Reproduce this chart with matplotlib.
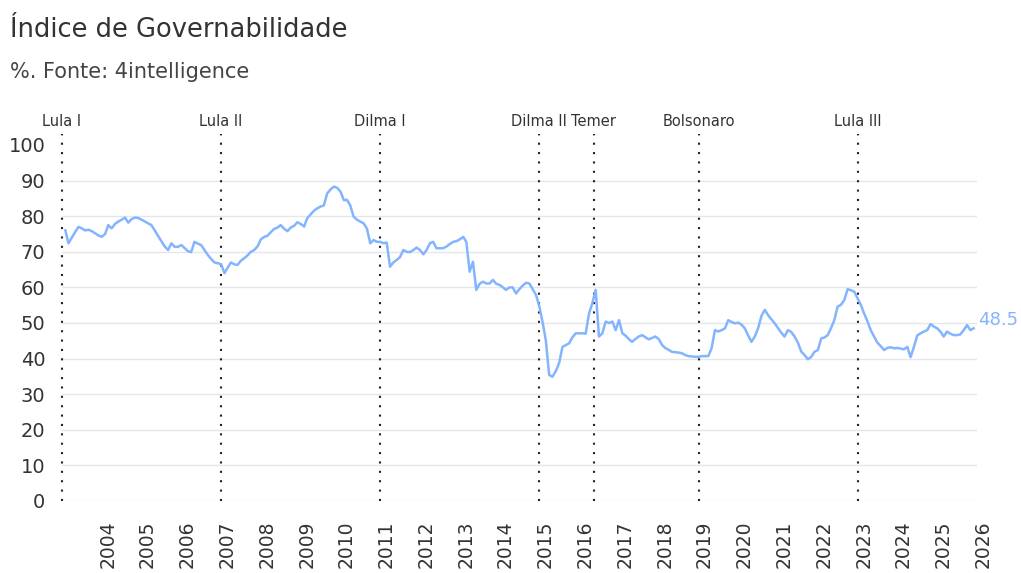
import numpy as np
import pandas as pd
import matplotlib
matplotlib.use("Agg")
import matplotlib.pyplot as plt
import matplotlib.dates as mdates
import matplotlib.transforms as mtrans

plt.rcParams['font.family'] = ['DejaVu Sans']

# monthly index values, Feb 2003 .. Dec 2025
vals_2003 = [76.0, 72.4, 74.0, 75.5, 77.0, 76.6, 76.0, 76.2, 75.8, 75.2, 74.6]
vals_2004 = [74.2, 75.0, 77.5, 76.6, 77.8, 78.5, 79.0, 79.6, 78.2, 79.2, 79.6, 79.5]
vals_2005 = [79.0, 78.5, 78.0, 77.5, 76.0, 74.5, 73.0, 71.5, 70.5, 72.4, 71.4, 71.4]
vals_2006 = [71.9, 71.0, 70.2, 69.9, 72.8, 72.3, 71.9, 70.5, 69.1, 68.0, 67.0, 66.8]
vals_2007 = [66.5, 64.0, 65.5, 67.0, 66.5, 66.3, 67.5, 68.2, 69.0, 70.0, 70.5, 71.5]
vals_2008 = [73.5, 74.2, 74.5, 75.5, 76.4, 76.8, 77.5, 76.5, 75.8, 76.8, 77.3, 78.3]
vals_2009 = [77.8, 77.1, 79.4, 80.5, 81.5, 82.2, 82.7, 83.0, 86.4, 87.5, 88.3, 88.0]
vals_2010 = [86.9, 84.5, 84.6, 83.0, 79.9, 79.0, 78.5, 78.0, 76.5, 72.4, 73.3, 72.8]
vals_2011 = [72.8, 72.4, 72.6, 65.8, 67.0, 67.7, 68.5, 70.5, 70.0, 69.9, 70.5, 71.2]
vals_2012 = [70.5, 69.3, 70.5, 72.4, 72.8, 71.0, 71.0, 71.0, 71.5, 72.2, 72.8, 73.0]
vals_2013 = [73.5, 74.2, 72.8, 64.4, 67.2, 59.3, 61.0, 61.6, 61.1, 61.1, 62.1, 61.0]
vals_2014 = [60.7, 60.0, 59.3, 60.0, 60.0, 58.3, 59.5, 60.5, 61.3, 61.1, 59.5, 57.9]
vals_2015 = [54.6, 50.0, 45.2, 35.4, 34.9, 36.5, 38.7, 43.3, 43.8, 44.3, 46.0, 47.1]
vals_2016 = [47.1, 47.1, 47.0, 52.7, 55.5, 59.3, 46.2, 47.1, 50.4, 50.0, 50.4, 48.0]
vals_2017 = [50.8, 47.1, 46.5, 45.5, 44.7, 45.5, 46.2, 46.6, 46.0, 45.4, 45.8, 46.2]
vals_2018 = [45.5, 43.8, 43.0, 42.5, 41.9, 41.8, 41.7, 41.5, 41.0, 40.7, 40.6, 40.5]
vals_2019 = [40.5, 40.7, 40.7, 40.7, 42.9, 48.0, 47.6, 48.0, 48.5, 50.8, 50.3, 49.9]
vals_2020 = [50.1, 49.5, 48.5, 46.5, 44.7, 46.2, 48.5, 52.0, 53.7, 52.2, 51.0, 49.9]
vals_2021 = [48.5, 47.2, 46.2, 48.0, 47.5, 46.2, 44.5, 42.0, 41.0, 39.8, 40.5, 41.9]
vals_2022 = [42.4, 45.7, 45.9, 46.6, 48.5, 50.8, 54.6, 55.1, 56.5, 59.5, 59.2, 58.8]
vals_2023 = [56.9, 55.0, 52.7, 50.5, 48.0, 46.2, 44.5, 43.5, 42.4, 43.0, 43.2, 42.9]
vals_2024 = [43.0, 42.8, 42.6, 43.3, 40.4, 43.3, 46.5, 47.1, 47.6, 48.0, 49.7, 49.0]
vals_2025 = [48.5, 47.5, 46.2, 47.6, 47.0, 46.6, 46.6, 46.8, 48.0, 49.4, 48.0, 48.5]

values = (vals_2003 + vals_2004 + vals_2005 + vals_2006 + vals_2007 + vals_2008
          + vals_2009 + vals_2010 + vals_2011 + vals_2012 + vals_2013 + vals_2014
          + vals_2015 + vals_2016 + vals_2017 + vals_2018 + vals_2019 + vals_2020
          + vals_2021 + vals_2022 + vals_2023 + vals_2024 + vals_2025)
dates = pd.date_range("2003-02-01", periods=len(values), freq="MS")

gov_names = ["Lula I", "Lula II", "Dilma I", "Dilma II", "Temer", "Bolsonaro", "Lula III"]
gov_start = pd.to_datetime(["2003-01-01", "2007-01-01", "2011-01-01", "2015-01-01",
                            "2016-05-12", "2019-01-01", "2023-01-01"])
years = list(range(2004, 2027))

fig = plt.figure(figsize=(10.21, 5.73), dpi=100)
ax = fig.add_axes([62 / 1021, 1 - 501 / 573, (977 - 62) / 1021, (501 - 145) / 573])

for s in ax.spines.values():
    s.set_visible(False)

ax.set_ylim(0, 100)
ax.set_xlim(pd.Timestamp("2003-01-01"), pd.Timestamp("2026-01-01"))
ax.set_yticks(range(0, 101, 10))
for yv in range(0, 100, 10):
    ax.axhline(yv, color="#e4e6ea", lw=1, zorder=0)

ax.plot(dates, values, color="#85b4ff", lw=1.8, zorder=3)
ax.annotate(f"{values[-1]:.1f}", (dates[-1], values[-1]), xytext=(3, 6),
            textcoords="offset points", color="#85b4ff", fontsize=13,
            va="center", ha="left")

for name, d in zip(gov_names, gov_start):
    ax.plot([d, d], [0, 103], color="#222222", lw=1.5, ls=(0, (1, 3.5)),
            clip_on=False, zorder=2)
    ax.text(d, 106.5, name, ha="center", va="center", fontsize=10.5, color="#333333")

ax.set_xticks([pd.Timestamp(f"{y}-01-01") for y in years])
ax.set_xticklabels([str(y) for y in years], rotation=90, fontsize=13.5, color="#333333")
ax.tick_params(axis="x", length=0, pad=14)
ax.tick_params(axis="y", length=0, pad=12, labelsize=14, labelcolor="#333333")
off = mtrans.ScaledTranslation(6 / 100, 0, fig.dpi_scale_trans)
for lab in ax.get_xticklabels():
    lab.set_transform(lab.get_transform() + off)

fig.text(10 / 1021, 1 - 30 / 573, "Índice de Governabilidade", fontsize=18.5,
         color="#333333", va="center", ha="left")
fig.text(10 / 1021, 1 - 72 / 573, "%. Fonte: 4intelligence", fontsize=15,
         color="#444444", va="center", ha="left")

fig.savefig("out.png", dpi=100)
